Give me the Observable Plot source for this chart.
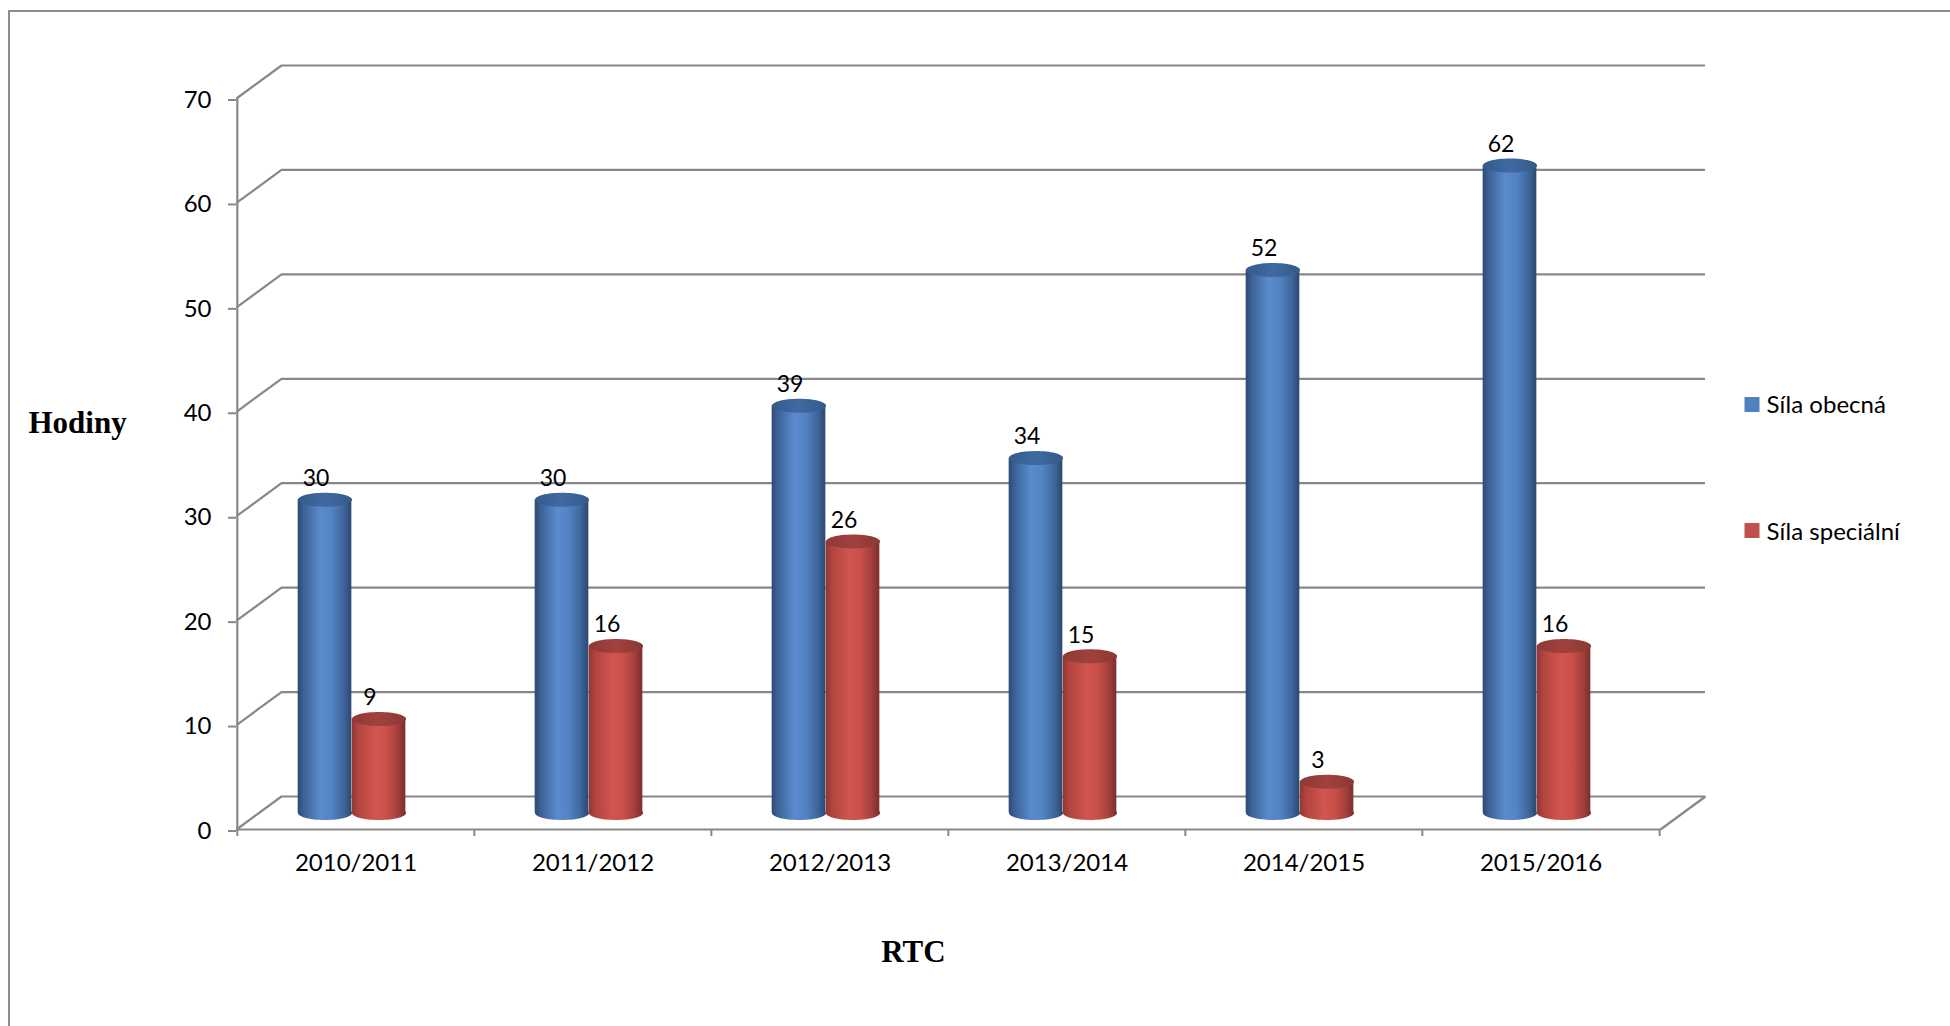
<!DOCTYPE html>
<html><head><meta charset="utf-8">
<script src="https://cdn.jsdelivr.net/npm/d3@7"></script>
<script src="https://cdn.jsdelivr.net/npm/@observablehq/plot@0.6"></script>
<style>
html,body{margin:0;padding:0;background:#fff;width:1950px;height:1026px;overflow:hidden;}
#border{position:absolute;left:8px;top:10px;right:0;bottom:0;border-left:2px solid #8c8c8c;border-top:2px solid #8c8c8c;}
#chart{position:absolute;left:0;top:0;}
</style></head><body>
<div id="border"></div><div id="chart"></div>
<script>
const categories = ["2010/2011","2011/2012","2012/2013","2013/2014","2014/2015","2015/2016"];
const obecna = [30, 30, 39, 34, 52, 62];
const specialni = [9, 16, 26, 15, 3, 16];
const seriesNames = ["Síla obecná", "Síla speciální"];
const yTicks = [0, 10, 20, 30, 40, 50, 60, 70];
const yTitle = "Hodiny";
const xTitle = "RTC";

const W = 1950, H = 1026, ML = 236, MR = 290, MT = 98, MB = 197;
const bw = (W - ML - MR) / categories.length;
const barW = 54, inset = (bw - barW) / 2;
const depthX = 45, depthY = -33;
const midDy = depthY / 2;
const grid = "#888888";
const font = "Lato, 'Open Sans', sans-serif";

const defs = () => {
  const g = d3.create("svg:defs");
  const mk = (id, stops) => {
    const lg = g.append("linearGradient").attr("id", id).attr("x1", 0).attr("x2", 1).attr("y1", 0).attr("y2", 0);
    stops.forEach(([o, c]) => lg.append("stop").attr("offset", o).attr("stop-color", c));
  };
  mk("gB", [[0, "#2c4a74"], [0.12, "#3d6398"], [0.42, "#5a8bcd"], [0.62, "#5483c4"], [0.85, "#3f679d"], [1, "#2b4870"]]);
  mk("gBt", [[0, "#355a8c"], [0.5, "#3f6aa1"], [1, "#355a8a"]]);
  mk("gR", [[0, "#8e3634"], [0.12, "#b2443f"], [0.45, "#d1564f"], [0.65, "#c94f49"], [0.85, "#a5403c"], [1, "#7c2e2c"]]);
  mk("gRt", [[0, "#8f3935"], [0.5, "#a1413d"], [1, "#8c3733"]]);
  return g.node();
};

const ellipse = (rx, ry) => ({
  draw(ctx) {
    const k = 0.5522847;
    ctx.moveTo(-rx, 0);
    ctx.bezierCurveTo(-rx, -ry * k, -rx * k, -ry, 0, -ry);
    ctx.bezierCurveTo(rx * k, -ry, rx, -ry * k, rx, 0);
    ctx.bezierCurveTo(rx, ry * k, rx * k, ry, 0, ry);
    ctx.bezierCurveTo(-rx * k, ry, -rx, ry * k, -rx, 0);
    ctx.closePath();
  }
});
const square = (s) => ({draw(ctx) { ctx.rect(-s / 2, -s / 2, s, s); }});
const lineShape = {draw(ctx, l) { ctx.moveTo(0, 0); ctx.lineTo(0, -l); }};
const depthLen = Math.hypot(depthX, depthY);
const depthAngle = Math.atan2(depthX, -depthY) * 180 / Math.PI;

const series = [
  {name: seriesNames[0], vals: obecna, dx: -31, body: "url(#gB)", top: "url(#gBt)", legend: "#4f81bd", ly: 306, ty: 314},
  {name: seriesNames[1], vals: specialni, dx: 23, body: "url(#gR)", top: "url(#gRt)", legend: "#c0504d", ly: 432, ty: 441}
];

const barMarks = series.flatMap(s => {
  const rows = categories.map((c, i) => ({c, v: s.vals[i]}));
  return [
    Plot.dot(rows, {x: "c", y: 0, r: 1, symbol: ellipse(barW / 2, 7), fill: s.body, stroke: "none", dx: s.dx, dy: midDy}),
    Plot.barY(rows, {x: "c", y: "v", fill: s.body, insetLeft: inset, insetRight: inset, dx: s.dx, dy: midDy}),
    Plot.dot(rows, {x: "c", y: "v", r: 1, symbol: ellipse(barW / 2, 7), fill: s.top, stroke: "none", dx: s.dx, dy: midDy}),
    Plot.text(rows, {x: "c", y: "v", text: d => String(d.v), dx: s.dx - 9, dy: midDy - 21, fontSize: 23, fontFamily: font, fill: "#000"})
  ];
});

const legendMarks = series.flatMap(s => [
  Plot.dot([s.name], {frameAnchor: "top-right", dx: 91.5, dy: s.ly, r: 1, symbol: square(15), fill: s.legend, stroke: "none"}),
  Plot.text([s.name], {frameAnchor: "top-right", text: d => d, dx: 106, dy: s.ty, textAnchor: "start", lineAnchor: "bottom", fontSize: 24, fontFamily: font, fill: "#000"})
]);

const chart = Plot.plot({
  width: W, height: H,
  marginLeft: ML, marginRight: MR, marginTop: MT, marginBottom: MB,
  style: {background: "transparent", color: "#000", overflow: "visible"},
  x: {type: "band", domain: categories, paddingInner: 0, paddingOuter: 0, label: null},
  y: {domain: [0, 70], label: null},
  marks: [
    defs,
    Plot.ruleY(yTicks, {dx: depthX, dy: depthY, stroke: grid, strokeWidth: 2.2}),
    Plot.vector(yTicks, {y: d => d, frameAnchor: "left", length: depthLen, rotate: depthAngle, anchor: "start", shape: lineShape, stroke: grid, fill: "none", strokeWidth: 2.2, strokeLinecap: "butt"}),
    Plot.vector([0], {y: d => d, frameAnchor: "right", length: depthLen, rotate: depthAngle, anchor: "start", shape: lineShape, stroke: grid, fill: "none", strokeWidth: 2.2, strokeLinecap: "butt"}),
    Plot.ruleY([0], {stroke: grid, strokeWidth: 2.2}),
    Plot.ruleX([categories[0]], {x: d => d, dx: -bw / 2, stroke: grid, strokeWidth: 2.2}),
    Plot.ruleX(categories, {x: d => d, y1: 0, y2: 0, insetBottom: -7, dx: -bw / 2, stroke: grid, strokeWidth: 2}),
    Plot.ruleX([categories[categories.length - 1]], {x: d => d, y1: 0, y2: 0, insetBottom: -7, dx: bw / 2, stroke: grid, strokeWidth: 2}),
    Plot.axisY({ticks: yTicks, tickSize: 8, tickPadding: 17, stroke: grid, strokeWidth: 2, fill: "#000", fontSize: 24, fontFamily: font, label: null, dy: 1.5}),
    Plot.axisX({tickSize: 0, tickPadding: 24, fill: "#000", fontSize: 24, fontFamily: font, label: null}),
    ...barMarks,
    Plot.text([yTitle], {frameAnchor: "left", text: d => d, dx: 28 - ML, dy: 432 - (MT + (H - MB)) / 2, textAnchor: "start", lineAnchor: "bottom", fontSize: 31, fontWeight: "bold", fontFamily: "'Liberation Serif', serif", fill: "#000"}),
    Plot.text([xTitle], {frameAnchor: "bottom", text: d => d, dx: 913 - (ML + W - MR) / 2, dy: 961 - (H - MB), textAnchor: "middle", lineAnchor: "bottom", fontSize: 31, fontWeight: "bold", fontFamily: "'Liberation Serif', serif", fill: "#000"}),
    ...legendMarks
  ]
});
document.getElementById("chart").appendChild(chart);
</script>
</body></html>
